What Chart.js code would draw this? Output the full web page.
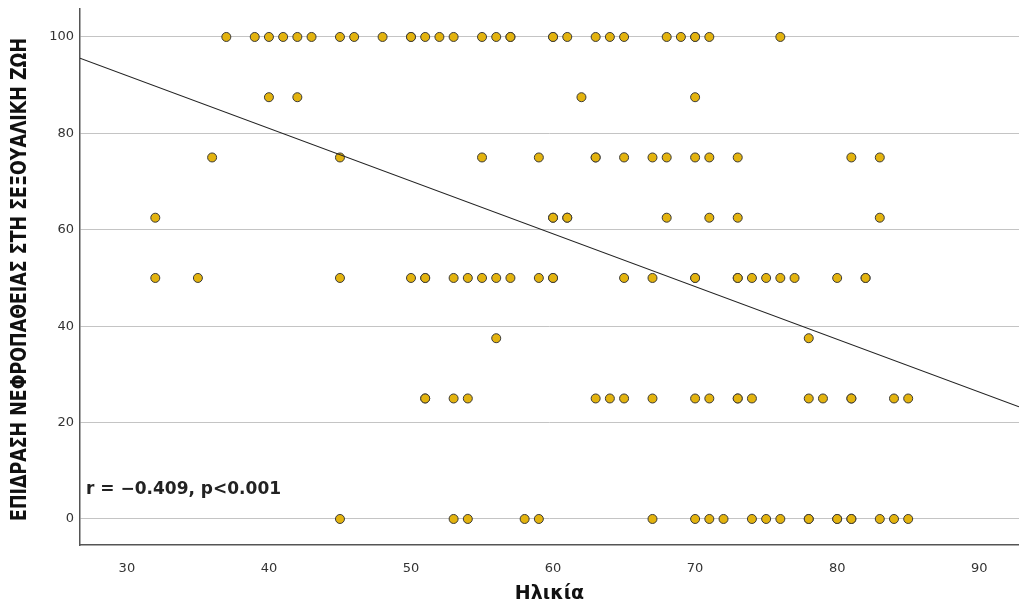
<!DOCTYPE html>
<html lang="el">
<head>
    <meta charset="UTF-8">
    <title>Ηλικία - Επίδραση νεφροπάθειας</title>
    <script src="https://cdn.jsdelivr.net/npm/chart.js"></script>
    <style>
        body { margin: 0; background: white; overflow: hidden; }
        canvas { display: block; }
    </style>
</head>
<body>
    <canvas id="scatterChart" width="1019" height="605"></canvas>

    <script>
        // ages (x) grouped by the score level (y) they sit on
        const agesAt100 = [37, 39, 40, 41, 42, 43, 45, 46, 48, 50, 50, 51, 52, 53, 55, 56, 57, 57, 60, 60, 61, 63, 64, 65, 68, 69, 70, 70, 71, 76];
        const agesAt87 = [40, 42, 62, 70];
        const agesAt75 = [36, 45, 55, 59, 63, 63, 65, 67, 68, 70, 71, 73, 81, 83];
        const agesAt62 = [32, 60, 60, 61, 61, 68, 71, 73, 83];
        const agesAt50 = [32, 35, 45, 50, 51, 51, 53, 54, 55, 56, 57, 59, 60, 60, 65, 67, 70, 70, 73, 73, 74, 75, 76, 77, 80, 82, 82];
        const agesAt37 = [56, 78];
        const agesAt25 = [51, 51, 53, 54, 63, 64, 65, 67, 70, 71, 73, 73, 74, 78, 79, 81, 81, 84, 85];
        const agesAt0 = [45, 53, 54, 58, 59, 67, 70, 71, 72, 74, 75, 76, 78, 78, 80, 80, 81, 81, 83, 84, 85];

        const scoreLevels = [100, 87.5, 75, 62.5, 50, 37.5, 25, 0];
        const agesByLevel = [agesAt100, agesAt87, agesAt75, agesAt62, agesAt50, agesAt37, agesAt25, agesAt0];

        // fit line
        const fitIntercept = 124.8;
        const fitSlope = -1.094;

        const xTicks = [30, 40, 50, 60, 70, 80, 90];
        const yTicks = [0, 20, 40, 60, 80, 100];
        const xMin = 26.7, xMax = 92.8;
        const yMin = -5.4, yMax = 105.8;

        const yTitle = 'ΕΠΙΔΡΑΣΗ ΝΕΦΡΟΠΑΘΕΙΑΣ ΣΤΗ ΣΕΞΟΥΑΛΙΚΗ ΖΩΗ';
        const xTitle = 'Ηλικία';
        const statText = 'r = \u22120.409, p<0.001';

        const points = [];
        scoreLevels.forEach((score, i) => {
            agesByLevel[i].forEach(age => points.push({ x: age, y: score }));
        });

        const fitLine = [xMin, xMax].map(x => ({ x: x, y: fitIntercept + fitSlope * x }));

        const tickFont = { family: '"DejaVu Sans", sans-serif', size: 13 };

        // y title (condensed) and the r/p note
        const extrasPlugin = {
            id: 'extras',
            afterDraw(chart) {
                const ctx = chart.ctx;
                ctx.save();
                ctx.fillStyle = '#111';
                ctx.translate(21, 279.5);
                ctx.rotate(-Math.PI / 2);
                ctx.font = 'bold 21px "DejaVu Sans", sans-serif';
                const w = ctx.measureText(yTitle).width;
                ctx.scale(483 / w, 1);
                ctx.textAlign = 'center';
                ctx.textBaseline = 'middle';
                ctx.fillText(yTitle, 0, 0);
                ctx.restore();

                ctx.save();
                ctx.fillStyle = '#222';
                ctx.font = 'bold 17px "DejaVu Sans", sans-serif';
                ctx.textAlign = 'left';
                ctx.textBaseline = 'middle';
                ctx.fillText(statText, chart.chartArea.left + 6, chart.scales.y.getPixelForValue(6.2));
                ctx.restore();
            }
        };

        new Chart(document.getElementById('scatterChart'), {
            type: 'scatter',
            data: {
                datasets: [{
                    type: 'line',
                    data: fitLine,
                    borderColor: '#222',
                    borderWidth: 1.2,
                    pointRadius: 0,
                    fill: false,
                    order: 0
                }, {
                    data: points,
                    backgroundColor: '#e3b30e',
                    borderColor: '#3a3a3a',
                    borderWidth: 1,
                    pointRadius: 4.5,
                    order: 1
                }]
            },
            options: {
                responsive: false,
                maintainAspectRatio: false,
                animation: false,
                layout: { autoPadding: false, padding: { top: 9, right: 0, left: 0, bottom: 0 } },
                plugins: {
                    legend: { display: false },
                    tooltip: { enabled: false }
                },
                scales: {
                    x: {
                        type: 'linear',
                        min: xMin,
                        max: xMax,
                        afterBuildTicks: scale => { scale.ticks = xTicks.map(v => ({ value: v })); },
                        afterFit: scale => {
                            scale.height = 60;
                            scale.paddingLeft = 0;
                            scale.paddingRight = 0;
                        },
                        grid: { display: false, drawTicks: false },
                        border: { display: true, color: '#555', width: 1.5 },
                        ticks: { font: tickFont, color: '#333', padding: 16 },
                        title: {
                            display: true,
                            text: xTitle,
                            color: '#111',
                            font: { family: '"DejaVu Sans", sans-serif', size: 19, weight: 'bold' },
                            padding: 0
                        }
                    },
                    y: {
                        type: 'linear',
                        min: yMin,
                        max: yMax,
                        afterBuildTicks: scale => { scale.ticks = yTicks.map(v => ({ value: v })); },
                        afterFit: scale => {
                            scale.width = 80;
                            scale.paddingTop = 0;
                            scale.paddingBottom = 0;
                        },
                        grid: { color: '#c4c4c4', lineWidth: 1, drawTicks: false },
                        border: { display: true, color: '#555', width: 1.5 },
                        ticks: { font: tickFont, color: '#333', padding: 6 }
                    }
                }
            },
            plugins: [extrasPlugin]
        });
    </script>
</body>
</html>
